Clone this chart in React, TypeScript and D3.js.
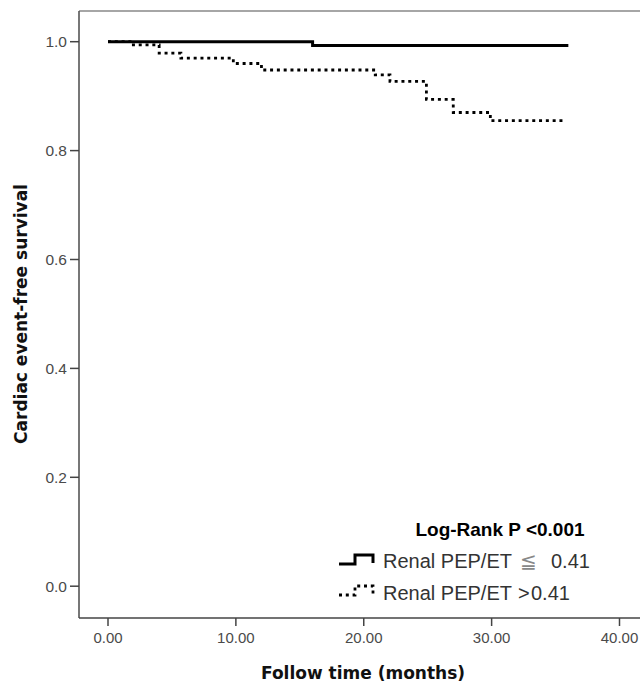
import React from "react";
import * as d3 from "d3";

// ---- data ----
const xTicks = [0, 10, 20, 30, 40];
const yTicks = [0, 0.2, 0.4, 0.6, 0.8, 1.0];

const lowTimes = [0, 16, 36];
const lowSurv = [1.0, 0.993, 0.993];

const highTimes = [0, 1.85, 4.0, 5.7, 9.8, 12.0, 20.9, 22.05, 24.9, 27.0, 29.9, 35.8];
const highSurv = [1.0, 0.994, 0.979, 0.97, 0.96, 0.948, 0.939, 0.927, 0.894, 0.87, 0.855, 0.855];

const legendTitle = "Log-Rank P <0.001";
// each legend label split into pieces: [name, operator, value]
const legendLabels = [
  ["Renal PEP/ET", "\u2266", "0.41"],
  ["Renal PEP/ET", ">", "0.41"],
];

const xTitle = "Follow time (months)";
const yTitle = "Cardiac event-free survival";

export default function App() {
  const W = 640, H = 684;
  const x = d3.scaleLinear().domain([0, 40]).range([108, 619.5]);
  const y = d3.scaleLinear().domain([0, 1]).range([586.2, 41.7]);
  const frameL = 79, frameT = 11, frameB = 618;

  const line = d3
    .line<[number, number]>()
    .x((d) => x(d[0]))
    .y((d) => y(d[1]))
    .curve(d3.curveStepAfter);

  const lowPts = lowTimes.map((t, i) => [t, lowSurv[i]] as [number, number]);
  const highPts = highTimes.map((t, i) => [t, highSurv[i]] as [number, number]);

  const tickFont = "'Liberation Sans', Arial, sans-serif";
  const titleFont = "'DejaVu Sans', Verdana, sans-serif";

  const sym = (x0: number, yb: number) =>
    `M${x0},${yb} H${x0 + 16} V${yb - 9} H${x0 + 34} V${yb - 1}`;

  const legX = 339, legTextX = 383;
  const rowY = [568, 600];
  const opX = [520, 518];
  const valX = [551, 531];

  return (
    <svg
      width={W}
      height={H}
      style={{ position: "absolute", left: 0, top: 0, background: "#fff" }}
    >
      <rect x={0} y={0} width={W} height={H} fill="#fff" />
      {/* frame */}
      <line x1={frameL} x2={W + 5} y1={frameT} y2={frameT} stroke="#888" strokeWidth={1.6} />
      <line x1={frameL} x2={frameL} y1={frameT} y2={frameB} stroke="#555" strokeWidth={1.6} />
      <line x1={frameL} x2={W + 5} y1={frameB} y2={frameB} stroke="#444" strokeWidth={1.6} />

      {/* y ticks */}
      {yTicks.map((t) => (
        <g key={"y" + t}>
          <line x1={frameL - 9} x2={frameL} y1={y(t)} y2={y(t)} stroke="#444" strokeWidth={1.5} />
          <text
            x={67}
            y={y(t)}
            dy="0.36em"
            textAnchor="end"
            fontFamily={tickFont}
            fontSize={15.5}
            fill="#4a4a4a"
          >
            {d3.format(".1f")(t)}
          </text>
        </g>
      ))}

      {/* x ticks */}
      {xTicks.map((t) => (
        <g key={"x" + t}>
          <line x1={x(t)} x2={x(t)} y1={frameB} y2={frameB + 8} stroke="#444" strokeWidth={1.5} />
          <text
            x={x(t)}
            y={643}
            textAnchor="middle"
            fontFamily={tickFont}
            fontSize={15}
            fill="#4a4a4a"
          >
            {d3.format(".2f")(t)}
          </text>
        </g>
      ))}

      {/* curves */}
      <path d={line(lowPts) || ""} fill="none" stroke="#000" strokeWidth={3} />
      <path
        d={line(highPts) || ""}
        fill="none"
        stroke="#000"
        strokeWidth={2.8}
        strokeDasharray="3 3.8"
      />

      {/* axis titles */}
      <text
        x={363}
        y={679}
        textAnchor="middle"
        fontFamily={titleFont}
        fontWeight="bold"
        fontSize={17}
        fill="#111"
      >
        {xTitle}
      </text>
      <text
        transform={`translate(27,314) rotate(-90)`}
        textAnchor="middle"
        fontFamily={titleFont}
        fontWeight="bold"
        fontSize={17}
        fill="#111"
      >
        {yTitle}
      </text>

      {/* legend */}
      <text
        x={500}
        y={536}
        textAnchor="middle"
        fontFamily={tickFont}
        fontWeight="bold"
        fontSize={19}
        fill="#000"
      >
        {legendTitle}
      </text>
      <path d={sym(legX, rowY[0] - 4)} fill="none" stroke="#000" strokeWidth={3} />
      <path
        d={sym(legX, rowY[1] - 5)}
        fill="none"
        stroke="#000"
        strokeWidth={2.8}
        strokeDasharray="3 3.8"
      />
      {legendLabels.map((l, i) => (
        <text
          key={i}
          y={rowY[i]}
          fontFamily={tickFont}
          fontSize={20}
          fill="#333"
        >
          <tspan x={legTextX}>{l[0]}</tspan>
          <tspan
            x={opX[i]}
            fill={i === 0 ? "#888" : "#333"}
            fontFamily={i === 0 ? "'DejaVu Sans', sans-serif" : tickFont}
          >
            {l[1]}
          </tspan>
          <tspan x={valX[i]}>{l[2]}</tspan>
        </text>
      ))}
    </svg>
  );
}
